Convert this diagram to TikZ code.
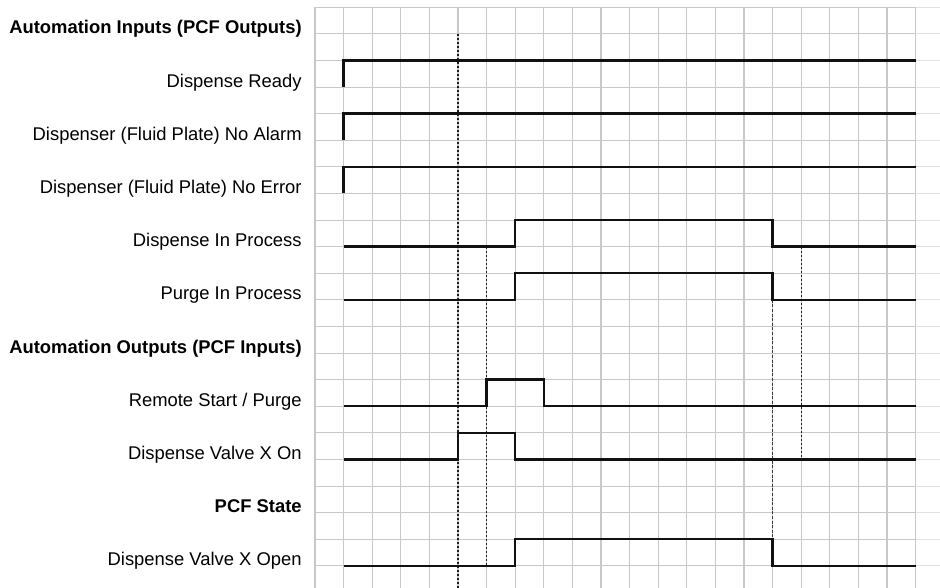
\documentclass[tikz,border=0pt]{standalone}
\usepackage{fontspec}
\setmainfont{Liberation Sans}
\usepackage{tikz}
\usepackage{xcolor}
\usetikzlibrary{positioning}
\definecolor{ink}{HTML}{111111}
\definecolor{gridgray}{HTML}{C8C8C8}
\definecolor{gridpale}{HTML}{E2E2E2}
\definecolor{markgray}{HTML}{1E1E1E}
\definecolor{markdark}{HTML}{3A3A3A}
\tikzset{
  gridline/.style={draw=gridgray,line width=1.1pt},
  gridfade/.style={draw=gridpale,line width=1.1pt},
  wave/.style={draw=ink,line width=2.4pt,line join=miter},
  marker/.style={draw=markgray,line width=1.3pt,dash pattern=on 2pt off 2pt},
  markdash/.style={draw=markdark,line width=1.3pt,dash pattern=on 3pt off 1.6pt},
  signame/.style={anchor=base east,inner sep=0pt,
                  font=\fontsize{18.4}{20}\selectfont},
  grouphead/.style={signame,font=\fontsize{18.4}{20}\selectfont\bfseries}
}

\begin{document}
\begin{tikzpicture}[x=28.6pt,y=-26.6pt]
  \useasboundingbox (-11.014,-0.274) rectangle (21.853,21.83);

  % background grid
  \foreach \k in {0,...,21} {
    \draw[gridline] (\k,0) -- (\k,21.83);
  }
  \foreach \j in {0,...,21} {
    \draw[gridline] (0,\j) -- (21,\j);
    \draw[gridfade] (21,\j) -- (21.853,\j);
  }

  % signal names
  \node[grouphead] (hdrin)     at (-0.46,1)  {Automation Inputs (PCF Outputs)};
  \node[signame]   (ready)     at (-0.46,3)  {Dispense Ready};
  \node[signame]   (noalarm)   at (-0.46,5)  {Dispenser (Fluid Plate) No Alarm};
  \node[signame]   (noerror)   at (-0.46,7)  {Dispenser (Fluid Plate) No Error};
  \node[signame]   (dispproc)  at (-0.46,9)  {Dispense In Process};
  \node[signame]   (purgeproc) at (-0.46,11) {Purge In Process};
  \node[grouphead] (hdrout)    at (-0.46,13) {Automation Outputs (PCF Inputs)};
  \node[signame]   (remstart)  at (-0.46,15) {Remote Start / Purge};
  \node[signame]   (valveon)   at (-0.46,17) {Dispense Valve X On};
  \node[grouphead] (hdrstate)  at (-0.46,19) {PCF State};
  \node[signame]   (valveopen) at (-0.46,21) {Dispense Valve X Open};

  % timing markers
  \draw[marker] (5,1) -- (5,21.83);
  \draw[marker] (6,9) -- (6,21);
  \draw[markdash] (16,11) -- (16,20);
  \draw[marker] (17,9) -- (17,17);

  % status signals, high from the start
  \foreach \lo in {3,5,7} {
    \draw[wave] (1,\lo) -- (1,\lo-1) -- (21,\lo-1);
  }

  % process signals
  \draw[wave] (1,9) -- (7,9) -- (7,8) -- (16,8) -- (16,9) -- (21,9);
  \draw[wave] (1,11) -- (7,11) -- (7,10) -- (16,10) -- (16,11) -- (21,11);

  % automation pulses
  \draw[wave] (1,15) -- (6,15) -- (6,14) -- (8,14) -- (8,15) -- (21,15);
  \draw[wave] (1,17) -- (5,17) -- (5,16) -- (7,16) -- (7,17) -- (21,17);

  % valve state
  \draw[wave] (1,21) -- (7,21) -- (7,20) -- (16,20) -- (16,21) -- (21,21);
\end{tikzpicture}
\end{document}
